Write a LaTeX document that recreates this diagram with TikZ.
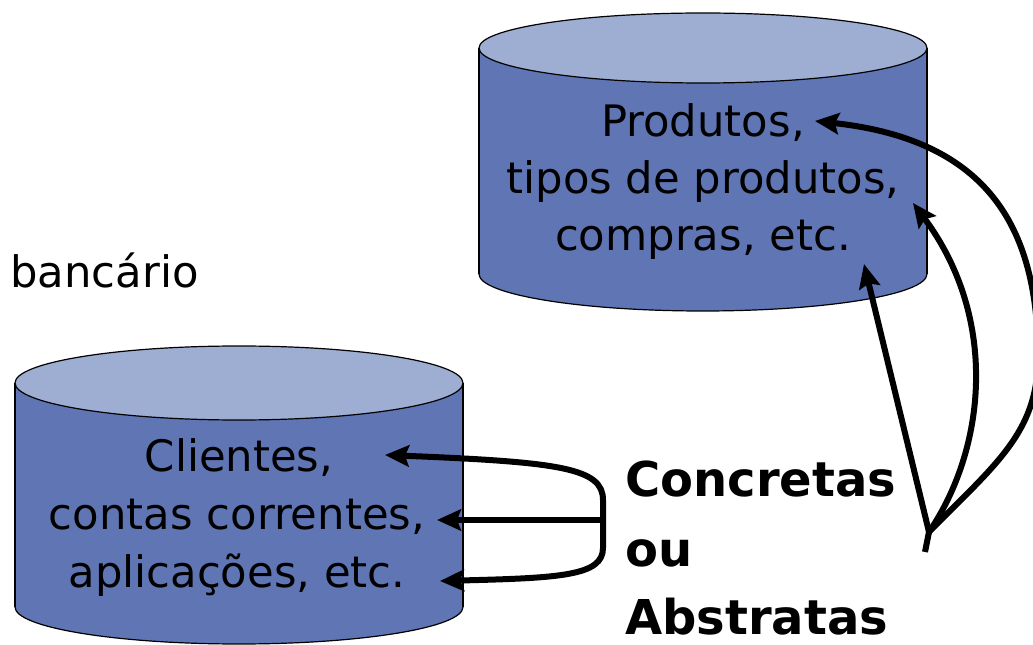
\documentclass[tikz,border=0pt]{standalone}
\usepackage{fontspec}
\setmainfont{DejaVu Sans}
\usetikzlibrary{arrows.meta}
\definecolor{cylbody}{RGB}{95,117,180}
\definecolor{cyltop}{RGB}{158,173,210}
\begin{document}
\begin{tikzpicture}[x=0.75pt,y=-0.75pt,
  cyl/.style={draw=black,line width=0.9pt},
  lbl/.style={anchor=base,inner sep=0pt,font=\fontsize{32.5}{36}\selectfont},
  big/.style={anchor=base west,inner sep=0pt,font=\fontsize{36}{40}\selectfont\bfseries},
  arr/.style={line width=4.5pt,-{Stealth[length=18pt,width=16pt,inset=3pt]}},
  ln/.style={line width=4.5pt}]
\useasboundingbox (0,0) rectangle (1033,645);
\clip (0,0) rectangle (1033,645);
% top cylinder
\fill[cylbody,cyl] (703,274) ellipse [x radius=224,y radius=37];
\fill[cylbody] (479,48) rectangle (927,274);
\draw[cyl] (479,48) -- (479,274) (927,48) -- (927,274);
\filldraw[fill=cyltop,cyl] (703,48) ellipse [x radius=224,y radius=35];
% bottom cylinder
\fill[cylbody,cyl] (239,607) ellipse [x radius=224,y radius=37];
\fill[cylbody] (15,383) rectangle (463,607);
\draw[cyl] (15,383) -- (15,607) (463,383) -- (463,607);
\filldraw[fill=cyltop,cyl] (239,383) ellipse [x radius=224,y radius=37];
% texts
\node[lbl] (p1) at (703,137) {Produtos,};
\node[lbl] (p2) at (703,194) {tipos de produtos,};
\node[lbl] (p3) at (703,251) {compras, etc.};
\node[lbl] (c1) at (239,472) {Clientes,};
\node[lbl] (c2) at (237,530) {contas correntes,};
\node[lbl] (c3) at (237,587) {aplicações, etc.};
\node[lbl,anchor=base west] (banc) at (10,288) {bancário};
\node[big] (conc) at (625,497) {Concretas};
\node[big] (ou) at (625,566) {ou};
\node[big] (abst) at (625,634) {Abstratas};
% arrow coordinates
\coordinate (tc1) at (385,455);
\coordinate (tc2) at (437,520);
\coordinate (tc3) at (440,581);
\coordinate (jl) at (603,520);
\coordinate (tp1) at (815,121);
\coordinate (tp2) at (913,203);
\coordinate (tp3) at (864,264);
\coordinate (jr) at (929,532);
\coordinate (tail) at (925,552);
% left bracket arrows
\draw[arr] (jl) -- (tc2);
\draw[arr] (jl) -- (603,500) .. controls (603,468) and (560,462) .. (tc1);
\draw[arr] (jl) -- (603,548) .. controls (603,576) and (560,578) .. (tc3);
% right arrows
\draw[ln,line cap=butt] (tail) -- (jr);
\draw[arr] (jr) -- (tp3);
\draw[arr] (jr) .. controls (985,450) and (1000,320) .. (tp2);
\draw[arr] (jr) .. controls (1000,460) and (1040,430) .. (1038,350) .. controls (1036,230) and (990,140) .. (tp1);
\end{tikzpicture}
\end{document}
